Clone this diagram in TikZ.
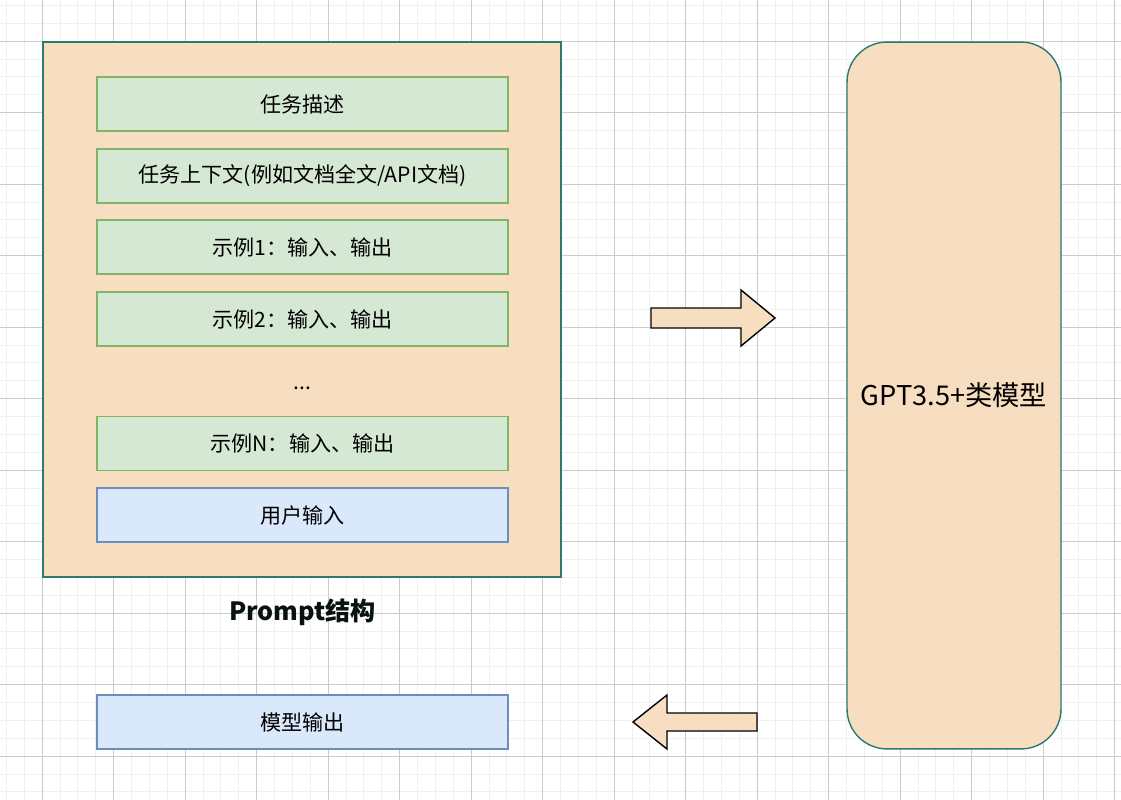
\documentclass[tikz,border=0pt]{standalone}
\usepackage{fontspec}
\setmainfont{Noto Sans CJK SC}
\usetikzlibrary{positioning}
\definecolor{peach}{HTML}{F8DEC0}
\definecolor{teal}{HTML}{2C7A6E}
\definecolor{gfill}{HTML}{D5E8D4}
\definecolor{gline}{HTML}{82B366}
\definecolor{bfill}{HTML}{DAE8FC}
\definecolor{bline}{HTML}{6C8EBF}
\tikzset{
  item/.style={draw=gline, fill=gfill, line width=0.8pt, minimum width=8.22cm, minimum height=1.08cm, font=\fontsize{12}{14}\selectfont, inner sep=0pt},
  user/.style={item, draw=bline, fill=bfill},
  fat arrow/.style={draw=black, fill=peach, line width=0.8pt, line join=miter}
}
\begin{document}
\begin{tikzpicture}[x=0.02cm,y=-0.02cm]
				\useasboundingbox (0,0) rectangle (1121,800);
				\fill[white] (0,0) rectangle (1121,800);
				% grid
				\foreach \i in {-2,...,62} {
					\draw[black!6, line width=0.4pt] ({42+17.875*\i},0) -- ({42+17.875*\i},800);
					\draw[black!6, line width=0.4pt] (0,{41+17.875*\i}) -- (1121,{41+17.875*\i});
				}
				\foreach \i in {-1,...,15} {
					\draw[black!20, line width=0.5pt] ({42+71.5*\i},0) -- ({42+71.5*\i},800);
					\draw[black!20, line width=0.5pt] (0,{41+71.5*\i}) -- (1121,{41+71.5*\i});
				}
				% prompt frame
				\draw[teal, fill=peach, line width=0.8pt] (43,42) rectangle (561,577);
				\node[item] (task) at (302.5,104) {任务描述};
				\node[item] (ctx) at (302.5,176) {任务上下文(例如文档全文/API文档)};
				\node[item] (ex1) at (302.5,247) {示例1：输入、输出};
				\node[item] (ex2) at (302.5,319) {示例2：输入、输出};
				\node[font=\fontsize{12}{14}\selectfont] (dots) at (302.5,388) {...};
				\node[item] (exn) at (302.5,443.5) {示例N：输入、输出};
				\node[user] (input) at (302.5,515) {用户输入};
				\node[font=\bfseries\fontsize{14.3}{16}\selectfont, text=black!85!teal] (title) at (302.5,612) {Prompt结构};
				% model
				\node[draw=teal, fill=peach, line width=0.8pt, rounded corners=0.8cm, minimum width=4.28cm, minimum height=14.14cm, font=\fontsize{15.5}{18}\selectfont] (model) at (954,395.5) {GPT3.5+类模型};
				\node[user] (output) at (302.5,722) {模型输出};
				% arrows
				\draw[fat arrow] (651,308) -- (741,308) -- (741,290) -- (775,318) -- (741,346) -- (741,328) -- (651,328) -- cycle;
				\draw[fat arrow] (757,713) -- (667,713) -- (667,695) -- (633,722) -- (667,749) -- (667,731) -- (757,731) -- cycle;
			\end{tikzpicture}
\end{document}
